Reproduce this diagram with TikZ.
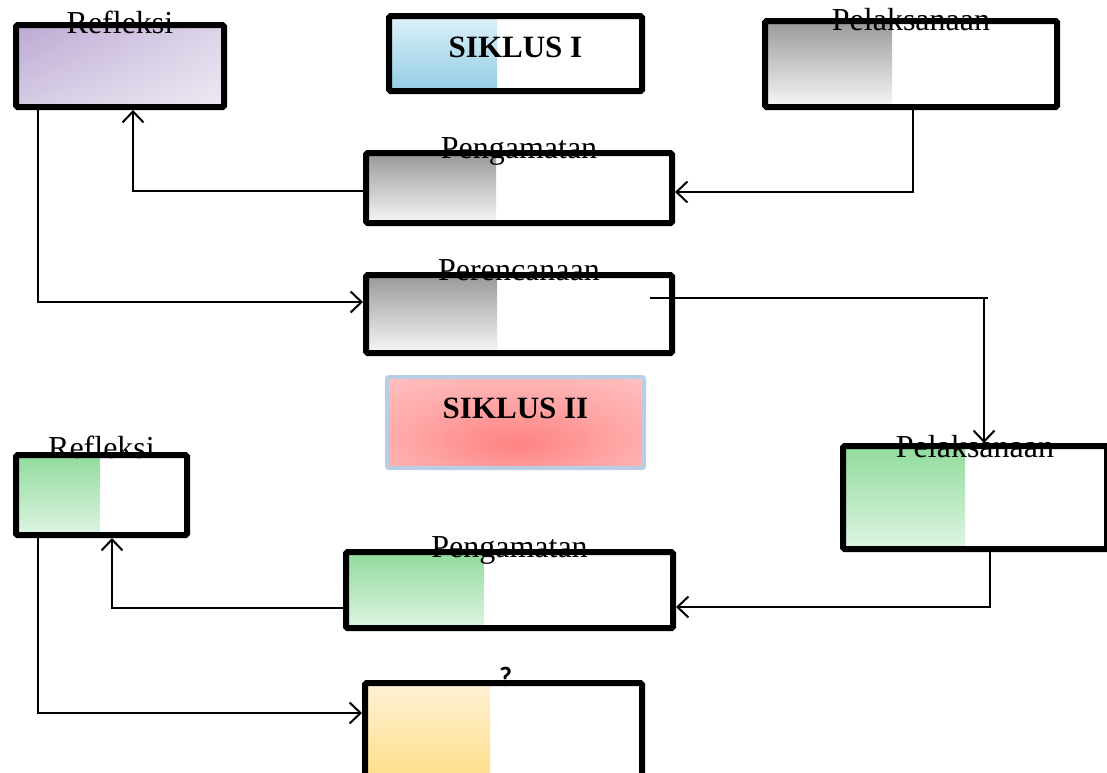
\documentclass[tikz,border=0pt]{standalone}
\usepackage{fontspec}
\setmainfont{Liberation Serif}
\newfontfamily\qfont{Carlito}
\usetikzlibrary{arrows.meta,shadings}
\definecolor{gtop}{HTML}{999999}
\definecolor{gbot}{HTML}{F7F7F7}
\definecolor{grtop}{HTML}{90DB9C}
\definecolor{grbot}{HTML}{DFF5E3}
\definecolor{btop}{HTML}{DDF0F8}
\definecolor{bbot}{HTML}{92CDE6}
\definecolor{ytop}{HTML}{FFF1D4}
\definecolor{ybot}{HTML}{FFDC80}
\definecolor{pul}{HTML}{BBA9D3}
\definecolor{pur}{HTML}{DDD4E9}
\definecolor{pll}{HTML}{D6CCE4}
\definecolor{plr}{HTML}{EEE9F3}
\definecolor{sbord}{HTML}{B9CDE5}
\definecolor{rin}{HTML}{FF8282}
\definecolor{rmid}{HTML}{FFA8A8}
\definecolor{rout}{HTML}{FFD6D6}
\pgfdeclareradialshading{siklusrad}{\pgfpoint{0bp}{-12bp}}{color(0bp)=(rin); color(22bp)=(rmid); color(55bp)=(rout); color(80bp)=(rout)}
\tikzset{
  box/.style={draw=black, line width=6pt, outer sep=3pt, fill=white, rounded corners=1.5pt,
    inner sep=0pt, anchor=north west},
  partfill/.style n args={3}{path picture={\shade[top color=#1,bottom color=#2]
    (path picture bounding box.north west) rectangle ([xshift=#3]path picture bounding box.south west);}},
  lbl/.style={anchor=base, inner sep=0pt, outer sep=0pt, font=\fontsize{32}{36}\selectfont},
  blbl/.style={anchor=base, inner sep=0pt, outer sep=0pt, font=\fontsize{31}{36}\selectfont\bfseries},
  arr/.style={line width=2pt, -{Straight Barb[length=11pt,width=21pt]}},
  seg/.style={line width=2pt}
}
\begin{document}
\begin{tikzpicture}[x=1pt,y=-1pt]
\useasboundingbox (0,0) rectangle (1107,772);
\begin{scope}
\clip (0,0) rectangle (1107,772);
% Siklus I
\node[box, minimum width=208, minimum height=82,
  path picture={\shade[upper left=pul, upper right=pur, lower left=pll, lower right=plr]
   (path picture bounding box.north west) rectangle (path picture bounding box.south east);}]
  (r1) at (13,22) {};
\node[box, minimum width=253, minimum height=75, partfill={btop}{bbot}{108}] (s1) at (386,13) {};
\node[box, minimum width=292, minimum height=86, partfill={gtop}{gbot}{127}] (p1) at (762,18) {};
\node[box, minimum width=306, minimum height=70, partfill={gtop}{gbot}{130}] (g1) at (363,150) {};
\node[box, minimum width=306, minimum height=78, partfill={gtop}{gbot}{131}] (c1) at (363,272) {};
% Siklus II
\node[box, draw=sbord, line width=4pt, outer sep=2pt, rounded corners=2pt, minimum width=257, minimum height=91,
  shading=siklusrad] (s2) at (385,375) {};
\node[box, minimum width=171, minimum height=80, partfill={grtop}{grbot}{84}] (r2) at (13,452) {};
\node[box, minimum width=264, minimum height=103, partfill={grtop}{grbot}{122}] (p2) at (840,443) {};
\node[box, minimum width=327, minimum height=76, partfill={grtop}{grbot}{138}] (g2) at (343,549) {};
\node[box, minimum width=277, minimum height=110, partfill={ytop}{ybot}{125}] (q) at (362,680) {};
% labels
\node[lbl] (tr1) at ([yshift=-11]r1.north) {Refleksi};
\node[blbl] (ts1) at ([yshift=-44]s1.north) {SIKLUS I};
\node[lbl] (tp1) at ([yshift=-12]p1.north) {Pelaksanaan};
\node[lbl] (tg1) at ([yshift=-8]g1.north) {Pengamatan};
\node[lbl] (tc1) at ([yshift=-8]c1.north) {Perencanaan};
\node[blbl] (ts2) at ([yshift=-43]s2.north) {SIKLUS II};
\node[lbl] (tr2) at ([yshift=-6]r2.north) {Refleksi};
\node[lbl] (tp2) at ([yshift=-14]p2.north) {Pelaksanaan};
\node[lbl] (tg2) at ([yshift=-8]g2.north) {Pengamatan};
\node[anchor=base, inner sep=0pt, font=\qfont\bfseries\fontsize{28}{30}\selectfont] (tq) at ([xshift=2,yshift=-6]q.north) {?};
% connectors
\coordinate (k1) at (913,192);
\draw[arr] (913,0 |- p1.south) -- (k1) -- (g1.east |- k1);
\coordinate (k2) at (133,191);
\draw[arr] (g1.west |- k2) -- (k2) -- (133,0 |- r1.south);
\coordinate (k3) at (38,302);
\draw[arr] (38,0 |- r1.south) -- (k3) -- (c1.west |- k3);
\coordinate (k4a) at (650,298);
\coordinate (k4b) at (988,298);
\coordinate (k4c) at (984,298);
\draw[seg] (k4a) -- (k4b);
\draw[arr] (k4c) -- (984,0 |- p2.north);
\coordinate (k5) at (990,607);
\draw[arr] (990,0 |- p2.south) -- (k5) -- (g2.east |- k5);
\coordinate (k6) at (112,608);
\draw[arr] (g2.west |- k6) -- (k6) -- (112,0 |- r2.south);
\coordinate (k7) at (38,713);
\draw[arr] (38,0 |- r2.south) -- (k7) -- (q.west |- k7);
\end{scope}
\end{tikzpicture}
\end{document}
